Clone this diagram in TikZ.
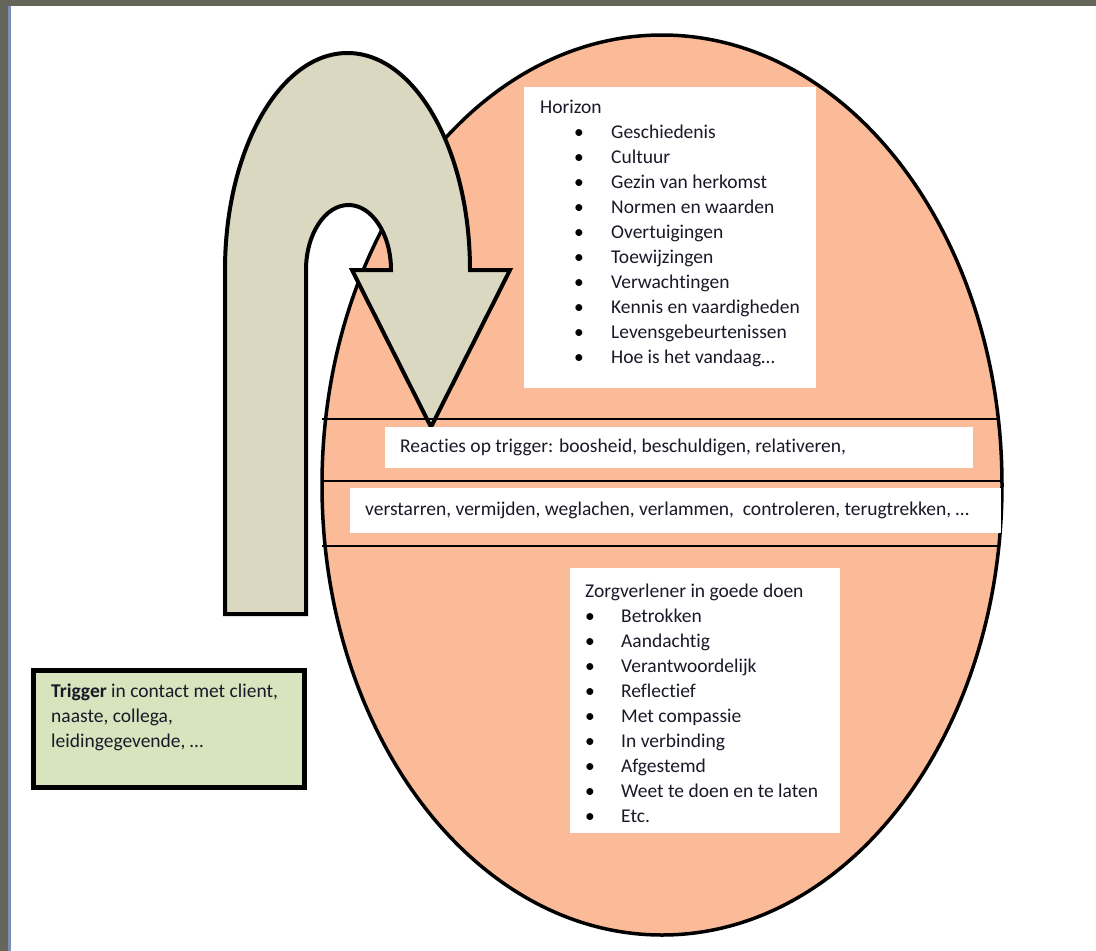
\documentclass[tikz,border=0pt]{standalone}
\usepackage{fontspec}
\setmainfont[Ligatures=NoCommon]{Carlito}
\definecolor{framegray}{RGB}{101,101,90}
\definecolor{frameblue}{RGB}{120,145,180}
\definecolor{peach}{RGB}{252,187,152}
\definecolor{tan}{RGB}{219,216,194}
\definecolor{trigreen}{RGB}{215,228,189}
\definecolor{textcol}{RGB}{25,25,40}
\begin{document}
\begin{tikzpicture}[x=1pt,y=-1pt,
  txt/.style={font=\fontsize{19.5}{24}\selectfont, text=textcol, inner sep=0pt, anchor=base west},
  blt/.style={font=\fontsize{19.5}{24}\selectfont, text=black, inner sep=0pt, anchor=base},
  wbox/.style={fill=white, draw=none, anchor=north west, inner sep=0pt},
  divider/.style={draw=black, line width=2.5pt},
]
\useasboundingbox (0,0) rectangle (1096,951);
% frame
\fill[white] (0,0) rectangle (1096,951);
\fill[framegray] (0,0) rectangle (1096,6);
\fill[framegray] (0,0) rectangle (8,951);
\fill[frameblue] (8,6) rectangle (11,951);

% ellipse
\draw[fill=peach, line width=3.5pt] (662,485) ellipse [x radius=340pt, y radius=450pt];

% U-turn arrow
\draw[fill=tan, line width=4pt, line join=miter]
  (225,614) -- (225,270)
  arc[start angle=180, end angle=0, x radius=122.5pt, y radius=217pt]
  -- (510,270) -- (431,427) -- (352,270) -- (391,270)
  arc[start angle=0, end angle=180, x radius=42.5pt, y radius=65pt]
  -- (306,614) -- cycle;

% divider lines
\coordinate (l1a) at (322,419); \coordinate (l1b) at (1000,419);
\coordinate (l2a) at (322,481); \coordinate (l2b) at (1003,481);
\coordinate (l3a) at (322,546); \coordinate (l3b) at (1000,546);
\draw[divider] (l1a) -- (l1b);
\draw[divider] (l2a) -- (l2b);
\draw[divider] (l3a) -- (l3b);

% white boxes
\node[wbox, minimum width=292pt, minimum height=301pt] (horizonbox) at (524,87) {};
\node[wbox, minimum width=588pt, minimum height=41pt] (reactbox) at (385,427) {};
\node[wbox, minimum width=651pt, minimum height=45pt] (verstbox) at (350,488) {};
\node[wbox, minimum width=270pt, minimum height=265pt] (zorgbox) at (570,568) {};

% Horizon
\node[txt] (horizon) at (540,113) {Horizon};
\foreach \t [count=\i from 0] in {Geschiedenis, Cultuur, Gezin van herkomst, Normen en waarden, Overtuigingen, Toewijzingen, Verwachtingen, Kennis en vaardigheden, Levensgebeurtenissen, Hoe is het vandaag…} {
  \node[blt] (hb\i) at (579,{138+25*\i}) {\textbullet};
  \node[txt] (hi\i) at (611,{138+25*\i}) {\t};
}

% reactions
\node[txt] (react) at (400,452) {Reacties op trigger: boosheid, beschuldigen, relativeren,};
\node[txt] (verst) at (365,515) {verstarren, vermijden, weglachen, verlammen,\ \ controleren, terugtrekken, …};

% Zorgverlener
\node[txt] (zorg) at (585,597) {Zorgverlener in goede doen};
\foreach \t [count=\i from 0] in {Betrokken, Aandachtig, Verantwoordelijk, Reflectief, Met compassie, In verbinding, Afgestemd, Weet te doen en te laten, Etc.} {
  \node[blt] (zb\i) at (590,{622+25*\i}) {\textbullet};
  \node[txt] (zi\i) at (621,{622+25*\i}) {\t};
}

% Trigger box
\draw[fill=trigreen, line width=5pt] (33,670) rectangle (304,787);
\node[txt] (trig1) at (51,697) {\textbf{Trigger} in contact met client,};
\node[txt] (trig2) at (51,722) {naaste, collega,};
\node[txt] (trig3) at (51,747) {leidingegevende, …};
\end{tikzpicture}
\end{document}
